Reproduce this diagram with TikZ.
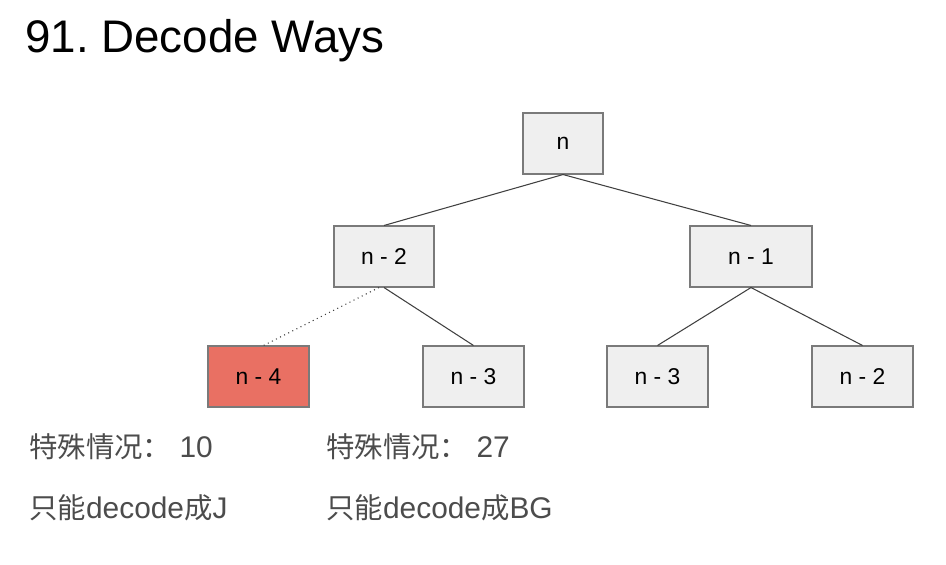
\documentclass[tikz,border=0pt]{standalone}
\usepackage{fontspec}
\setmainfont{Liberation Sans}
\newfontfamily\cjk[Scale=0.95]{Noto Sans CJK SC}
\definecolor{boxfill}{HTML}{EFEFEF}
\definecolor{boxline}{HTML}{7A7A7A}
\definecolor{hotbox}{HTML}{E97063}
\definecolor{edgeline}{HTML}{404040}

\begin{document}
\begin{tikzpicture}[box/.style={draw=boxline,fill=boxfill,line width=0.6pt,minimum height=1.22cm,minimum width=2.02cm,inner sep=0pt,font=\fontsize{13}{15}\selectfont},
  edge/.style={edgeline,line width=0.6pt},
  note/.style={anchor=base west,inner sep=0pt,font=\fontsize{17}{20}\selectfont,text=black!70}]
\useasboundingbox (0,0) rectangle (18.92,-11.28);
\node[anchor=base west,inner sep=0pt,font=\fontsize{26}{30}\selectfont] (title) at (0.5,-1.04) {91.\ Decode Ways};
% tree
\node[box,minimum width=1.6cm] (n) at (11.26,-2.87) {n};
\node[box,minimum width=2cm] (nb) at (7.68,-5.13) {n - 2};
\node[box,minimum width=2.44cm] (na) at (15.02,-5.13) {n - 1};
\node[box,fill=hotbox] (nd) at (5.17,-7.53) {n - 4};
\node[box] (nc) at (9.47,-7.53) {n - 3};
\node[box] (nca) at (13.15,-7.53) {n - 3};
\node[box] (nba) at (17.25,-7.53) {n - 2};
\draw[edge] (n.south)--(nb.north);
\draw[edge] (n.south)--(na.north);
\draw[edge,dotted] ([xshift=-1mm]nb.south)--([xshift=1mm]nd.north);
\draw[edge] (nb.south)--(nc.north);
\draw[edge] (na.south)--(nca.north);
\draw[edge] (na.south)--(nba.north);
% notes
\node[note] (ta) at (0.58,-9.14) {{\cjk 特殊情况：} 10};
\node[note] (tb) at (6.52,-9.14) {{\cjk 特殊情况：} 27};
\node[note] (ua) at (0.58,-10.36) {{\cjk 只能}decode{\cjk 成}J};
\node[note] (ub) at (6.52,-10.36) {{\cjk 只能}decode{\cjk 成}BG};
\end{tikzpicture}
\end{document}
